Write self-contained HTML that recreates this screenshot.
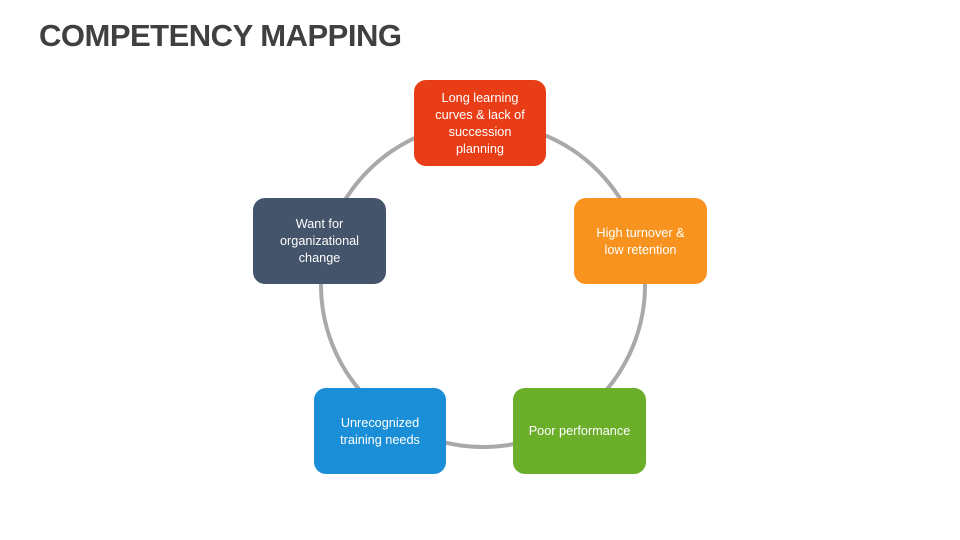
<!DOCTYPE html>
<html>
<head>
<meta charset="utf-8">
<style>
  html, body { margin:0; padding:0; }
  body { width:960px; height:540px; position:relative; background:#ffffff; overflow:hidden;
         font-family:"Liberation Sans", sans-serif; }
  .title { position:absolute; left:39px; top:16px; font-size:31px; font-weight:bold; color:#404040;
           letter-spacing:-0.5px; line-height:40px; white-space:nowrap; }
  .box { position:absolute; width:133px; height:86px; border-radius:12px; color:#ffffff;
         display:flex; align-items:center; justify-content:center; text-align:center;
         font-size:12.7px; line-height:17px; padding-top:1px; box-sizing:border-box; }
  svg { position:absolute; left:0; top:0; }
</style>
</head>
<body>
<div class="title">COMPETENCY MAPPING</div>
<svg width="960" height="540" viewBox="0 0 960 540">
  <circle cx="483" cy="285" r="162" fill="none" stroke="#A9A9A9" stroke-width="4"/>
</svg>
<div class="box" style="left:414px; top:80px; width:132px; background:#E83D17;">Long learning<br>curves &amp; lack of<br>succession<br>planning</div>
<div class="box" style="left:574px; top:198px; background:#F7931E;">High turnover &amp;<br>low retention</div>
<div class="box" style="left:513px; top:388px; background:#6BAE29;">Poor performance</div>
<div class="box" style="left:314px; top:388px; width:132px; background:#1A8FD7;">Unrecognized<br>training needs</div>
<div class="box" style="left:253px; top:198px; background:#44546A;">Want for<br>organizational<br>change</div>
</body>
</html>
